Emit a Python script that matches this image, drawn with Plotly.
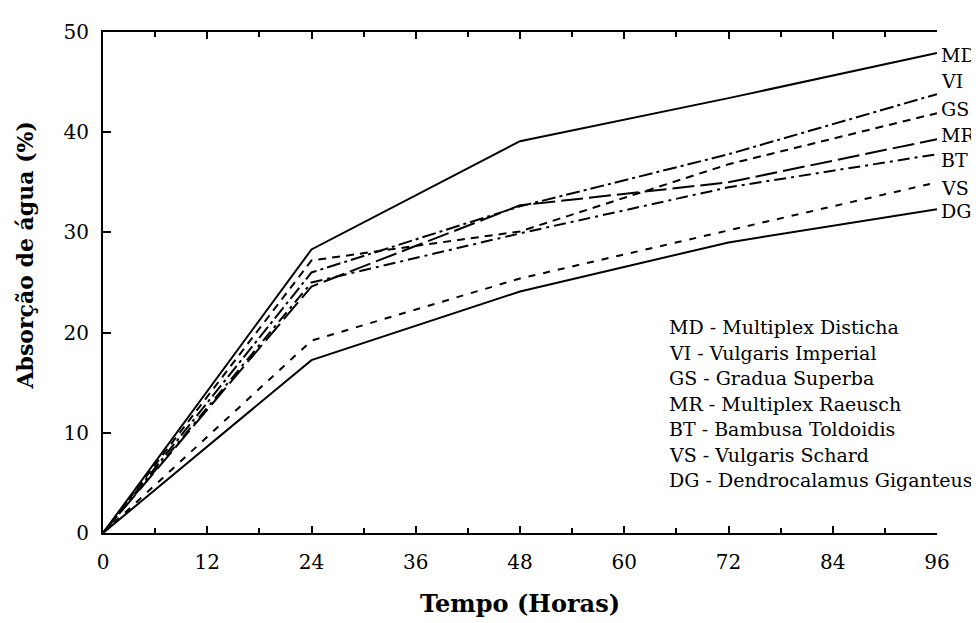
import plotly.graph_objects as go

hours = [0, 24, 48, 72, 96]
codes = ["MD", "VI", "GS", "MR", "BT", "VS", "DG"]
names = ["Multiplex Disticha", "Vulgaris Imperial", "Gradua Superba",
         "Multiplex Raeusch", "Bambusa Toldoidis", "Vulgaris Schard",
         "Dendrocalamus Giganteus"]
md = [0, 28.3, 39.1, 43.4, 47.9]
vi = [0, 26.0, 32.6, 37.8, 43.8]
gs = [0, 27.2, 30.1, 36.8, 41.9]
mr = [0, 24.6, 32.7, 35.0, 39.3]
bt = [0, 25.0, 29.9, 34.5, 37.8]
vs = [0, 19.2, 25.4, 30.2, 35.0]
dg = [0, 17.25, 24.1, 29.0, 32.3]
series = [md, vi, gs, mr, bt, vs, dg]
dashes = ["solid", "14px,4px,3px,4px", "8px,6px", "22px,6px", "12px,5px,3px,5px", "7px,8px", "solid"]
label_y = [47.7, 45.1, 42.3, 39.7, 37.2, 34.4, 32.1]

fig = go.Figure()
for c, ys, d in zip(codes, series, dashes):
    fig.add_trace(go.Scatter(x=hours, y=ys, mode="lines", name=c,
                             line=dict(color="black", width=2, dash=d),
                             showlegend=False))

font = "DejaVu Serif"
L, R, T, B = 103, 937, 22, 533
PW, PH = R - L, B - T
anns = []
for c, ly in zip(codes, label_y):
    anns.append(dict(x=96, y=ly, xref="x", yref="y", text=c, showarrow=False,
                     xanchor="left", yanchor="middle", xshift=2,
                     font=dict(family=font, size=19, color="black")))
for i, (c, n) in enumerate(zip(codes, names)):
    py = 323 + 26 * i
    anns.append(dict(x=(667 - L) / PW, y=(B - py) / PH, xref="paper", yref="paper",
                     text=f"{c} - {n}", showarrow=False, xanchor="left", yanchor="middle",
                     font=dict(family=font, size=19, color="black")))
anns.append(dict(x=(25 - L) / PW, y=(B - 250) / PH, xref="paper", yref="paper",
                 text="<b>Absorção de água (%)</b>", textangle=-90, showarrow=False,
                 xanchor="center", yanchor="middle",
                 font=dict(family=font, size=22, color="black")))

fig.update_layout(
    width=979, height=623,
    margin=dict(l=L - 8, r=979 - (R - 8), t=T - 8, b=623 - (B - 8)),
    plot_bgcolor="white", paper_bgcolor="white",
    font=dict(family=font, color="black", size=20),
    annotations=anns,
    xaxis=dict(range=[0, 96], tickvals=[0, 12, 24, 36, 48, 60, 72, 84, 96],
               ticks="inside", ticklen=7, tickwidth=1.5, tickcolor="black",
               ticklabelstandoff=10,
               minor=dict(dtick=6, tick0=0, ticks="inside", ticklen=5, tickcolor="black"),
               showline=True, linecolor="black", linewidth=2, mirror="ticks",
               showgrid=False, zeroline=False,
               title=dict(text="<b>Tempo (Horas)</b>", font=dict(size=24), standoff=22)),
    yaxis=dict(range=[0, 50], tickvals=[0, 10, 20, 30, 40, 50],
               ticks="inside", ticklen=8, tickwidth=1.5, tickcolor="black",
               ticklabelstandoff=8,
               showline=True, linecolor="black", linewidth=2,
               showgrid=False, zeroline=False),
)
fig.write_html("out.html")
